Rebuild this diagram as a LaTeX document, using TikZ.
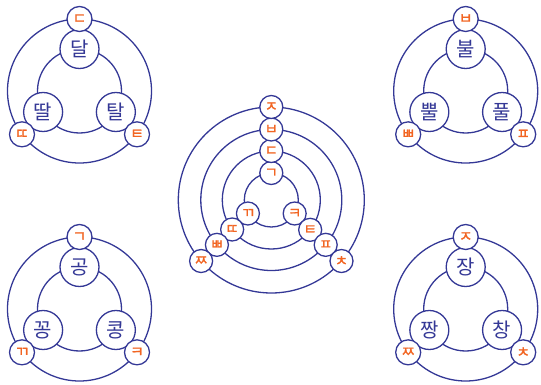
\documentclass[tikz,border=0pt]{standalone}
\usepackage{fontspec}
\newfontfamily\kr{Noto Sans CJK KR}
\newfontfamily\krj{Noto Sans CJK KR}[FakeBold=1.2]
\usetikzlibrary{calc}
\definecolor{ln}{RGB}{52,56,150}
\definecolor{og}{RGB}{242,101,34}
\newcommand\grp[9]{%
  \coordinate (#1c) at (#2,#3);
  \draw[ring] (#1c) circle[radius=72pt];
  \draw[ring] (#1c) circle[radius=42pt];
  \node[big] (#1s1) at ($(#1c)+(270:42)$) {#4};
  \node[big] (#1s2) at ($(#1c)+(150:42)$) {#5};
  \node[big] (#1s3) at ($(#1c)+(30:42)$) {#6};
  \node[jamo] (#1j1) at ($(#1c)+(270:72)$) {#7};
  \node[jamo] (#1j2) at ($(#1c)+(143:72)$) {#8};
  \node[jamo] (#1j3) at ($(#1c)+(37:72)$) {#9};
}
\begin{document}
\begin{tikzpicture}[x=1pt,y=-1pt,
  ring/.style={draw=ln,line width=1.3pt},
  big/.style={circle,draw=ln,line width=1.3pt,fill=white,minimum size=39pt,inner sep=0pt,font=\kr\fontsize{20}{20}\selectfont,text=ln},
  jamo/.style={circle,draw=ln,line width=1.3pt,fill=white,minimum size=25pt,inner sep=0pt,font=\krj\fontsize{15}{15}\selectfont,text=og},
  jamos/.style={jamo,minimum size=23pt,font=\krj\fontsize{14.5}{14.5}\selectfont}]
\useasboundingbox (0,0) rectangle (541,385);
\grp{tl}{79.5}{91}{달}{딸}{탈}{ㄷ}{ㄸ}{ㅌ}
\grp{tr}{465.7}{91}{불}{뿔}{풀}{ㅂ}{ㅃ}{ㅍ}
\grp{bl}{79.5}{309}{공}{꽁}{콩}{ㄱ}{ㄲ}{ㅋ}
\grp{br}{465.7}{309}{장}{짱}{창}{ㅈ}{ㅉ}{ㅊ}
% centre group
\coordinate (cc) at (271.3,200);
\draw[ring] (cc) circle[radius=27pt];
\draw[ring] (cc) circle[radius=49pt];
\draw[ring] (cc) circle[radius=70.5pt];
\draw[ring] (cc) circle[radius=93pt];
\node[jamos] (c1t) at ($(cc)+(270:27)$) {ㄱ};
\node[jamos] (c1l) at ($(cc)+(150:27)$) {ㄲ};
\node[jamos] (c1r) at ($(cc)+(30:27)$) {ㅋ};
\node[jamos] (c2t) at ($(cc)+(270:49)$) {ㄷ};
\node[jamos] (c2l) at ($(cc)+(143:49)$) {ㄸ};
\node[jamos] (c2r) at ($(cc)+(37.5:49)$) {ㅌ};
\node[jamos] (c3t) at ($(cc)+(270:70.5)$) {ㅂ};
\node[jamos] (c3l) at ($(cc)+(140.5:70.5)$) {ㅃ};
\node[jamos] (c3r) at ($(cc)+(39.5:70.5)$) {ㅍ};
\node[jamos] (c4t) at ($(cc)+(270:93)$) {ㅈ};
\node[jamos] (c4l) at ($(cc)+(139:93)$) {ㅉ};
\node[jamos] (c4r) at ($(cc)+(41:93)$) {ㅊ};
\end{tikzpicture}
\end{document}
